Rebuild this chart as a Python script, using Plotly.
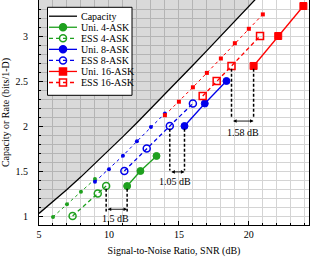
import plotly.graph_objects as go

# ---------------- data ----------------
cap_snr = [5, 6, 7, 8, 9, 10, 11, 12, 13, 14, 15, 16, 17, 18, 19, 20, 21]
cap_rate = [1.029, 1.158, 1.294, 1.435, 1.581, 1.730, 1.882, 2.037, 2.194,
            2.353, 2.514, 2.675, 2.838, 3.001, 3.165, 3.329, 3.494]

uni4_snr = [11.3, 12.25, 13.4]
uni4_rate = [1.333, 1.5, 1.667]
ess4_snr = [7.4, 9.2, 9.8]
ess4_rate = [1.0, 1.25, 1.333]
ref4_snr = [6, 7, 8, 9]
ref4_rate = [0.99, 1.13, 1.27, 1.41]

uni8_snr = [15.4, 16.85, 18.4]
uni8_rate = [2.0, 2.25, 2.5]
ess8_snr = [11.1, 12.7, 14.35, 16.0]
ess8_rate = [1.5, 1.75, 2.0, 2.25]
ref8_snr = [9, 10, 11, 12, 13, 14]
ref8_rate = [1.38, 1.52, 1.67, 1.83, 1.99, 2.14]

uni16_snr = [20.34, 22.1, 23.9]
uni16_rate = [2.667, 3.0, 3.333]
ess16_snr = [16.7, 17.7, 18.76, 20.8]
ess16_rate = [2.333, 2.5, 2.667, 3.0]
ref16_snr = [14, 15, 16, 17, 18, 19, 20, 21]
ref16_rate = [2.12, 2.27, 2.43, 2.59, 2.75, 2.92, 3.08, 3.24]

# shaping gap annotations
gap_rate = [1.333, 2.0, 2.667]
gap_ess_snr = [9.8, 14.35, 18.76]
gap_uni_snr = [11.3, 15.4, 20.34]
gap_bottom = [1.05, 1.505, 2.09]
gap_arrow_y = [1.075, 1.49, 2.055]
gap_label = ["1.5 dB", "1.05 dB", "1.58 dB"]
gap_label_x = [10.5, 14.75, 19.6]
gap_label_y = [0.975, 1.385, 1.93]

legend_labels = ["Capacity", "Uni. 4-ASK", "ESS 4-ASK", "Uni. 8-ASK",
                 "ESS 8-ASK", "Uni. 16-ASK", "ESS 16-ASK"]

# ---------------- styles ----------------
FONT = "Liberation Serif"
GREEN = "rgb(30,160,30)"
BLUE = "rgb(0,0,235)"
RED = "rgb(255,0,0)"
X_RANGE = [5, 24.3]
Y_RANGE = [0.9, 3.4]

fig = go.Figure()

# infeasible region above capacity
fig.add_trace(go.Scatter(
    x=cap_snr + [cap_snr[0]], y=cap_rate + [Y_RANGE[1] + 0.1],
    fill="toself", fillcolor="rgba(0,0,0,0.15)", line=dict(width=0),
    mode="lines", hoverinfo="skip", showlegend=False))

fig.add_trace(go.Scatter(x=cap_snr, y=cap_rate, mode="lines",
                         line=dict(color="black", width=1.3), showlegend=False))

series = [
    (ref4_snr, ref4_rate, GREEN, "dot", "circle", 4, 1.0, 0),
    (ref8_snr, ref8_rate, BLUE, "dot", "circle", 4, 1.0, 0),
    (ref16_snr, ref16_rate, RED, "dot", "square", 4, 1.0, 0),
    (ess4_snr, ess4_rate, GREEN, "4px,3px", "circle-open", 7, 1.3, 1.5),
    (uni4_snr, uni4_rate, GREEN, "solid", "circle", 7, 1.3, 1.0),
    (ess8_snr, ess8_rate, BLUE, "4px,3px", "circle-open", 7, 1.3, 1.5),
    (uni8_snr, uni8_rate, BLUE, "solid", "circle", 7, 1.3, 1.0),
    (ess16_snr, ess16_rate, RED, "4px,3px", "square-open", 7, 1.3, 1.5),
    (uni16_snr, uni16_rate, RED, "solid", "square", 7, 1.3, 1.0),
]
for xs, ys, col, dash, sym, ms, lw, mlw in series:
    fig.add_trace(go.Scatter(
        x=xs, y=ys, mode="lines+markers",
        line=dict(color=col, width=lw, dash=dash),
        marker=dict(symbol=sym, size=ms, color=col, line=dict(color=col, width=mlw)),
        showlegend=False))

# gap dashed drop lines and arrows
for i in range(len(gap_rate)):
    for sx in (gap_ess_snr[i], gap_uni_snr[i]):
        fig.add_trace(go.Scatter(
            x=[sx, sx], y=[gap_rate[i] - 0.03, gap_bottom[i]], mode="lines",
            line=dict(color="black", width=1.5, dash="3px,2px"),
            showlegend=False, hoverinfo="skip"))
    fig.add_annotation(x=gap_uni_snr[i], y=gap_arrow_y[i], ax=gap_ess_snr[i],
                       ay=gap_arrow_y[i], axref="x", ayref="y", xref="x", yref="y",
                       text="", showarrow=True, arrowside="end+start",
                       arrowhead=2, arrowsize=0.8, arrowwidth=0.9,
                       arrowcolor="black", standoff=0, startstandoff=0)
    fig.add_annotation(x=gap_label_x[i], y=gap_label_y[i], text=gap_label[i],
                       showarrow=False, font=dict(family=FONT, size=10, color="black"))

# ---------------- manual legend (plot-pixel coordinates on overlay axes) ----------------
LEG_BOX = (8.5, 93, 7.3, 95.3)   # x0, x1, y0, y1 in plot pixels
LEG_ROW0 = 16.2
LEG_DY = 11.05
LEG_LINE = (10, 38)
LEG_TEXT_X = 40
legend_styles = [
    ("black", "solid", None, 1.3),
    (GREEN, "solid", "circle", 1.3),
    (GREEN, "4px,3px", "circle-open", 1.3),
    (BLUE, "solid", "circle", 1.3),
    (BLUE, "4px,3px", "circle-open", 1.3),
    (RED, "solid", "square", 1.3),
    (RED, "4px,3px", "square-open", 1.3),
]
bx0, bx1, by0, by1 = LEG_BOX
fig.add_trace(go.Scatter(x=[bx0, bx1, bx1, bx0, bx0], y=[by0, by0, by1, by1, by0],
                         xaxis="x2", yaxis="y2", mode="lines", fill="toself",
                         fillcolor="white", line=dict(color="black", width=1),
                         showlegend=False, hoverinfo="skip"))
for i, (label, (col, dash, sym, lw)) in enumerate(zip(legend_labels, legend_styles)):
    ry = LEG_ROW0 + i * LEG_DY
    fig.add_trace(go.Scatter(x=list(LEG_LINE), y=[ry, ry], xaxis="x2", yaxis="y2",
                             mode="lines", line=dict(color=col, width=lw, dash=dash),
                             showlegend=False, hoverinfo="skip"))
    if sym:
        fig.add_trace(go.Scatter(x=[(LEG_LINE[0] + LEG_LINE[1]) / 2], y=[ry],
                                 xaxis="x2", yaxis="y2", mode="markers",
                                 marker=dict(symbol=sym, size=7, color=col,
                                             line=dict(color=col, width=1.5)),
                                 showlegend=False, hoverinfo="skip"))
    fig.add_annotation(x=LEG_TEXT_X, y=ry, xref="x2", yref="y2", text=label,
                       showarrow=False, xanchor="left", yanchor="middle",
                       font=dict(family=FONT, size=10, color="black"))

axis_common = dict(showline=True, linecolor="black", linewidth=1, mirror=True,
                   ticks="inside", ticklen=4, tickcolor="black",
                   showgrid=True, gridcolor="#d4d4d4", gridwidth=1, zeroline=False,
                   tickfont=dict(family=FONT, size=10, color="black"))

fig.update_layout(
    width=310, height=257,
    margin=dict(l=39, r=1, t=0, b=32),
    plot_bgcolor="white", paper_bgcolor="white",
    showlegend=False,
    font=dict(family=FONT, size=10, color="black"),
    xaxis=dict(range=X_RANGE, dtick=5, tick0=0,
               minor=dict(dtick=1, showgrid=True, gridcolor="#d4d4d4",
                          ticks="inside", ticklen=2, tickcolor="black"),
               title=dict(text="Signal-to-Noise Ratio, SNR (dB)", standoff=9,
                          font=dict(family=FONT, size=10)),
               **axis_common),
    yaxis=dict(range=Y_RANGE, dtick=0.5, tick0=0, ticklabelstandoff=8,
               minor=dict(dtick=0.1, showgrid=True, gridcolor="#d4d4d4",
                          ticks="inside", ticklen=2, tickcolor="black"),
               title=dict(text="Capacity or Rate (bits/1-D)", standoff=4,
                          font=dict(family=FONT, size=10)),
               **axis_common),
    xaxis2=dict(range=[0, 270], overlaying="x", visible=False, fixedrange=True),
    yaxis2=dict(range=[225, 0], overlaying="y", visible=False, fixedrange=True),
)

fig.write_html("out.html", config={"displayModeBar": False},
               post_script="document.body.style.margin='0';document.body.style.overflow='hidden';")
